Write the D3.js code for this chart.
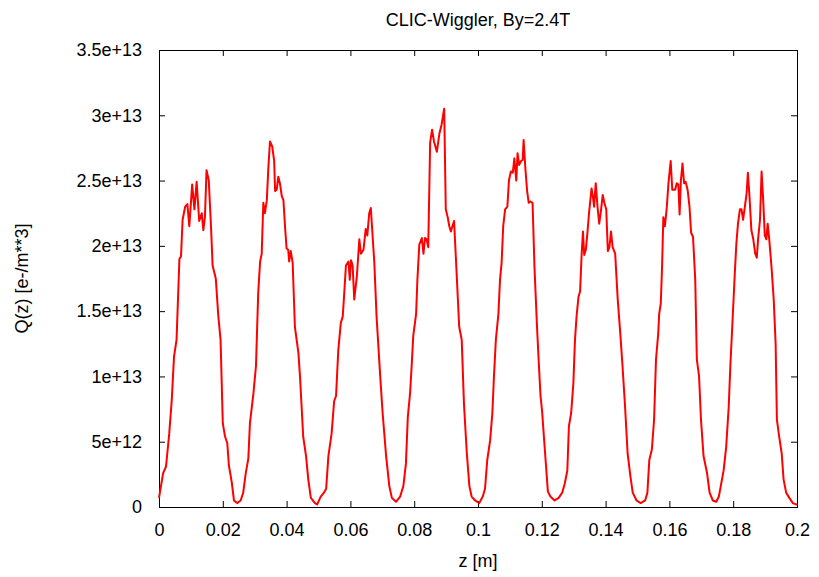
<!DOCTYPE html>
<html>
<head>
<meta charset="utf-8">
<script src="https://cdn.jsdelivr.net/npm/d3@7"></script>
<style>
    body { margin: 0; background: #fff; }
    #chart-area { width: 819px; height: 577px; }
    text { font-family: "Liberation Sans", Arial, sans-serif; font-size: 18px; fill: #000; }
    .axis path { display: none; }
    .axis line { stroke: #000; stroke-width: 1; }
    .frame { fill: none; stroke: #000; stroke-width: 1; }
    .curve { fill: none; stroke: #ff0000; stroke-width: 2; stroke-linejoin: round; }
</style>
</head>
<body>
<div id="chart-area"></div>
<script>

// z position along the wiggler [m]
let zValues = [
    0.0000, 0.0013, 0.0022, 0.0032, 0.0040, 0.0047, 0.0055, 0.0064, 0.0069, 0.0074,
    0.0082, 0.0089, 0.0095, 0.0104, 0.0111, 0.0118, 0.0126, 0.0134, 0.0139, 0.0144,
    0.0149, 0.0156, 0.0163, 0.0168, 0.0178, 0.0186, 0.0193, 0.0200, 0.0207, 0.0214,
    0.0219, 0.0228, 0.0235, 0.0245, 0.0256, 0.0264, 0.0272, 0.0280, 0.0285, 0.0296,
    0.0304, 0.0311, 0.0317, 0.0322, 0.0327, 0.0332, 0.0338, 0.0343, 0.0348, 0.0355,
    0.0361, 0.0364, 0.0369, 0.0374, 0.0379, 0.0385, 0.0390, 0.0395, 0.0400, 0.0405,
    0.0408, 0.0413, 0.0419, 0.0426, 0.0437, 0.0442, 0.0452, 0.0461, 0.0468, 0.0476,
    0.0489, 0.0496, 0.0507, 0.0517, 0.0524, 0.0531, 0.0541, 0.0549, 0.0555, 0.0562,
    0.0570, 0.0576, 0.0580, 0.0586, 0.0594, 0.0598, 0.0602, 0.0607, 0.0612, 0.0620,
    0.0628, 0.0633, 0.0641, 0.0648, 0.0653, 0.0659, 0.0664, 0.0675, 0.0682, 0.0693,
    0.0701, 0.0712, 0.0722, 0.0730, 0.0743, 0.0756, 0.0766, 0.0774, 0.0780, 0.0787,
    0.0792, 0.0797, 0.0806, 0.0810, 0.0816, 0.0824, 0.0829, 0.0834, 0.0839, 0.0844,
    0.0850, 0.0856, 0.0862, 0.0871, 0.0879, 0.0886, 0.0894, 0.0899, 0.0905, 0.0910,
    0.0915, 0.0921, 0.0925, 0.0933, 0.0941, 0.0949, 0.0956, 0.0965, 0.0973, 0.0980,
    0.0991, 0.1004, 0.1015, 0.1022, 0.1029, 0.1038, 0.1045, 0.1050, 0.1056, 0.1064,
    0.1069, 0.1074, 0.1079, 0.1085, 0.1092, 0.1097, 0.1103, 0.1109, 0.1114, 0.1120,
    0.1124, 0.1129, 0.1135, 0.1140, 0.1143, 0.1148, 0.1154, 0.1159, 0.1164, 0.1171,
    0.1177, 0.1185, 0.1190, 0.1196, 0.1201, 0.1208, 0.1219, 0.1227, 0.1240, 0.1253,
    0.1264, 0.1272, 0.1280, 0.1285, 0.1292, 0.1299, 0.1304, 0.1309, 0.1315, 0.1320,
    0.1325, 0.1329, 0.1333, 0.1338, 0.1343, 0.1348, 0.1356, 0.1360, 0.1364, 0.1369,
    0.1375, 0.1380, 0.1385, 0.1391, 0.1396, 0.1402, 0.1407, 0.1412, 0.1417, 0.1422,
    0.1430, 0.1438, 0.1446, 0.1453, 0.1461, 0.1469, 0.1478, 0.1485, 0.1497, 0.1510,
    0.1524, 0.1531, 0.1537, 0.1545, 0.1552, 0.1558, 0.1565, 0.1568, 0.1573, 0.1577,
    0.1581, 0.1586, 0.1592, 0.1597, 0.1604, 0.1609, 0.1618, 0.1623, 0.1628, 0.1632,
    0.1636, 0.1641, 0.1646, 0.1651, 0.1657, 0.1663, 0.1668, 0.1674, 0.1681, 0.1686,
    0.1693, 0.1699, 0.1707, 0.1718, 0.1726, 0.1736, 0.1747, 0.1755, 0.1761, 0.1770,
    0.1778, 0.1786, 0.1791, 0.1798, 0.1805, 0.1810, 0.1815, 0.1821, 0.1826, 0.1831,
    0.1836, 0.1842, 0.1846, 0.1851, 0.1857, 0.1863, 0.1869, 0.1874, 0.1878, 0.1884,
    0.1889, 0.1894, 0.1899, 0.1904, 0.1908, 0.1913, 0.1920, 0.1927, 0.1933, 0.1937,
    0.1944, 0.1952, 0.1958, 0.1966, 0.1976, 0.1987, 0.1997, 0.2000
];

// electron cloud density Q(z), in units of 1e13 e-/m**3
let qValuesE13 = [
    0.07, 0.26, 0.31, 0.56, 0.82, 1.15, 1.28, 1.90, 1.92, 2.20,
    2.30, 2.32, 2.15, 2.47, 2.28, 2.49, 2.19, 2.25, 2.12, 2.22,
    2.58, 2.50, 2.15, 1.85, 1.75, 1.46, 1.28, 0.64, 0.54, 0.49,
    0.32, 0.19, 0.05, 0.03, 0.05, 0.11, 0.26, 0.37, 0.64, 0.87,
    1.08, 1.64, 1.88, 1.94, 2.33, 2.25, 2.35, 2.61, 2.80, 2.76,
    2.65, 2.42, 2.43, 2.53, 2.48, 2.38, 2.35, 2.15, 1.98, 1.97,
    1.88, 1.96, 1.87, 1.38, 1.18, 1.00, 0.54, 0.39, 0.21, 0.07,
    0.03, 0.02, 0.08, 0.11, 0.14, 0.39, 0.56, 0.81, 0.85, 1.20,
    1.41, 1.46, 1.61, 1.85, 1.88, 1.74, 1.89, 1.85, 1.59, 1.76,
    2.05, 1.94, 1.97, 2.13, 2.08, 2.25, 2.29, 1.87, 1.46, 1.02,
    0.72, 0.39, 0.16, 0.07, 0.04, 0.08, 0.16, 0.33, 0.69, 0.87,
    1.08, 1.31, 1.48, 1.74, 2.01, 2.06, 1.94, 2.06, 2.05, 1.99,
    2.79, 2.89, 2.80, 2.72, 2.86, 2.93, 3.05, 2.28, 2.22, 2.15,
    2.11, 2.16, 2.19, 1.79, 1.38, 1.28, 0.79, 0.41, 0.16, 0.08,
    0.05, 0.03, 0.08, 0.14, 0.36, 0.51, 0.72, 1.00, 1.28, 1.48,
    1.74, 1.87, 2.15, 2.28, 2.30, 2.50, 2.57, 2.56, 2.67, 2.50,
    2.71, 2.62, 2.65, 2.66, 2.81, 2.61, 2.42, 2.33, 2.34, 2.33,
    1.84, 1.38, 1.13, 0.85, 0.73, 0.49, 0.12, 0.08, 0.05, 0.07,
    0.11, 0.18, 0.28, 0.62, 0.72, 0.95, 1.28, 1.46, 1.61, 1.65,
    1.94, 2.11, 1.93, 1.97, 2.10, 2.25, 2.44, 2.38, 2.30, 2.48,
    2.29, 2.17, 2.26, 2.39, 2.33, 2.28, 1.96, 1.99, 2.11, 1.99,
    1.94, 1.59, 1.33, 1.08, 0.77, 0.41, 0.23, 0.11, 0.05, 0.03,
    0.05, 0.11, 0.36, 0.44, 0.67, 1.13, 1.33, 1.48, 1.56, 1.84,
    2.22, 2.15, 2.30, 2.48, 2.65, 2.43, 2.43, 2.48, 2.47, 2.24,
    2.50, 2.63, 2.48, 2.49, 2.43, 2.30, 2.10, 2.07, 1.74, 1.13,
    1.00, 0.67, 0.39, 0.26, 0.11, 0.05, 0.04, 0.08, 0.16, 0.28,
    0.46, 0.77, 1.08, 1.43, 1.79, 2.02, 2.17, 2.28, 2.28, 2.20,
    2.29, 2.40, 2.56, 2.38, 2.12, 2.05, 1.94, 1.91, 2.05, 2.20,
    2.57, 2.35, 2.08, 2.05, 2.17, 2.05, 1.84, 1.59, 1.25, 0.67,
    0.54, 0.41, 0.21, 0.11, 0.07, 0.03, 0.02, 0.02
];

// tick values and labels
let xTickValues = [0, 0.02, 0.04, 0.06, 0.08, 0.1, 0.12, 0.14, 0.16, 0.18, 0.2];
let xTickLabels = ["0", "0.02", "0.04", "0.06", "0.08", "0.1", "0.12", "0.14", "0.16", "0.18", "0.2"];
let yTickValues = [0, 5e12, 1e13, 1.5e13, 2e13, 2.5e13, 3e13, 3.5e13];
let yTickLabels = ["0", "5e+12", "1e+13", "1.5e+13", "2e+13", "2.5e+13", "3e+13", "3.5e+13"];

let chartTitle = "CLIC-Wiggler, By=2.4T";
let xLabel = "z [m]";
let yLabel = "Q(z) [e-/m**3]";


class LineChart {

    constructor(parentElement, data) {
        this.parentElement = parentElement;
        this.data = data;
        this.initVis();
    }

    initVis() {
        let vis = this;

        vis.margin = {top: 50, right: 22, bottom: 70, left: 159};
        vis.width = 819 - vis.margin.left - vis.margin.right;
        vis.height = 577 - vis.margin.top - vis.margin.bottom;

        vis.svg = d3.select("#" + vis.parentElement).append("svg")
            .attr("width", vis.width + vis.margin.left + vis.margin.right)
            .attr("height", vis.height + vis.margin.top + vis.margin.bottom)
            .append("g")
            .attr("transform", "translate(" + vis.margin.left + "," + vis.margin.top + ")");

        vis.x = d3.scaleLinear()
            .domain([0, 0.2])
            .range([0, vis.width]);

        vis.y = d3.scaleLinear()
            .domain([0, 3.5e13])
            .range([vis.height, 0]);

        let xFmt = d => xTickLabels[xTickValues.indexOf(d)];
        let yFmt = d => yTickLabels[yTickValues.indexOf(d)];

        // gnuplot-style ticks: pointing inwards, mirrored on all four sides
        vis.svg.append("g")
            .attr("class", "axis x-axis")
            .attr("transform", "translate(0," + vis.height + ")")
            .call(d3.axisBottom(vis.x).tickValues(xTickValues).tickFormat(xFmt).tickSizeInner(-6).tickPadding(16));

        vis.svg.append("g")
            .attr("class", "axis x-axis-top")
            .call(d3.axisTop(vis.x).tickValues(xTickValues).tickFormat("").tickSizeInner(-6));

        vis.svg.append("g")
            .attr("class", "axis y-axis")
            .call(d3.axisLeft(vis.y).tickValues(yTickValues).tickFormat(yFmt).tickSizeInner(-6).tickPadding(17));

        vis.svg.append("g")
            .attr("class", "axis y-axis-right")
            .attr("transform", "translate(" + vis.width + ",0)")
            .call(d3.axisRight(vis.y).tickValues(yTickValues).tickFormat("").tickSizeInner(-6));

        vis.svg.selectAll(".axis text")
            .style("font-size", "18px")
            .style("font-family", "'Liberation Sans', Arial, sans-serif")
            .attr("fill", "#000");

        vis.svg.append("rect")
            .attr("class", "frame")
            .attr("x", 0.5)
            .attr("y", 0.5)
            .attr("width", vis.width)
            .attr("height", vis.height);

        vis.svg.append("text")
            .attr("x", vis.width / 2)
            .attr("y", -24)
            .attr("text-anchor", "middle")
            .text(chartTitle);

        vis.svg.append("text")
            .attr("x", vis.width / 2)
            .attr("y", vis.height + 60)
            .attr("text-anchor", "middle")
            .text(xLabel);

        vis.svg.append("text")
            .attr("transform", "translate(-131," + (vis.height / 2) + ") rotate(-90)")
            .attr("text-anchor", "middle")
            .text(yLabel);

        vis.curvePath = vis.svg.append("path")
            .attr("class", "curve");

        vis.updateVis();
    }

    updateVis() {
        let vis = this;

        vis.line = d3.line()
            .x(d => vis.x(d.z))
            .y(d => vis.y(d.q));

        vis.curvePath
            .datum(vis.data)
            .attr("d", vis.line);
    }
}

let chartData = zValues.map((z, i) => ({z: z, q: qValuesE13[i] * 1e13}));
let qChart = new LineChart("chart-area", chartData);

</script>
</body>
</html>
